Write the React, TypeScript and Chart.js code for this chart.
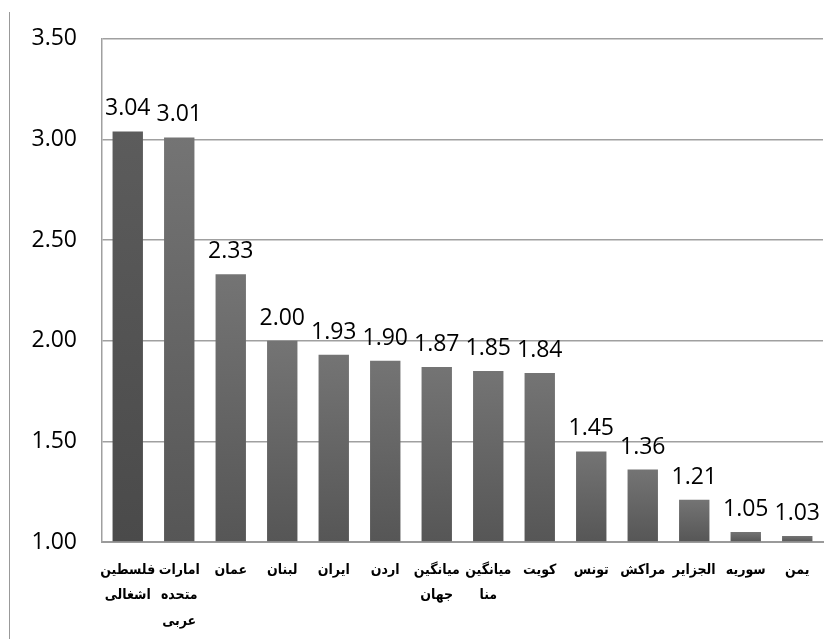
import React, { useEffect, useRef } from "react";
import { Chart, registerables } from "chart.js";

Chart.register(...registerables);

const categories: (string | string[])[] = [
  ["فلسطین", "اشغالی"],
  ["امارات", "متحده", "عربی"],
  "عمان",
  "لبنان",
  "ایران",
  "اردن",
  ["میانگین", "جهان"],
  ["میانگین", "منا"],
  "کویت",
  "تونس",
  "مراکش",
  "الجزایر",
  "سوریه",
  "یمن",
];

const values = [3.04, 3.01, 2.33, 2.0, 1.93, 1.9, 1.87, 1.85, 1.84, 1.45, 1.36, 1.21, 1.05, 1.03];

const yMin = 1.0;
const yMax = 3.5;
const yStep = 0.5;

const valueLabelPlugin = {
  id: "valueLabels",
  afterDatasetsDraw(chart: any) {
    const ctx = chart.ctx;
    const meta = chart.getDatasetMeta(0);
    ctx.save();
    ctx.font = "23px 'Open Sans', sans-serif";
    ctx.fillStyle = "#000";
    ctx.textAlign = "center";
    ctx.textBaseline = "alphabetic";
    meta.data.forEach((bar: any, i: number) => {
      ctx.fillText(values[i].toFixed(2), bar.x, bar.y - 16);
    });
    ctx.restore();
  },
};

export default function App() {
  const canvasRef = useRef<HTMLCanvasElement | null>(null);

  useEffect(() => {
    if (!canvasRef.current) return;
    const chart = new Chart(canvasRef.current, {
      type: "bar",
      data: {
        labels: categories,
        datasets: [
          {
            data: values,
            base: yMin,
            backgroundColor: (c: any) => {
              const ch = c.chart;
              const area = ch.chartArea;
              const i = c.dataIndex;
              if (!area || i === undefined) return "#666";
              const y = ch.scales.y;
              const top = y.getPixelForValue(values[i]);
              const bottom = y.getPixelForValue(yMin);
              const g = ch.ctx.createLinearGradient(0, top, 0, bottom);
              if (i === 0) {
                g.addColorStop(0, "#5c5c5c");
                g.addColorStop(1, "#4a4a4a");
              } else {
                g.addColorStop(0, "#747474");
                g.addColorStop(1, "#565656");
              }
              return g;
            },
            borderWidth: 0,
            barPercentage: 0.59,
            categoryPercentage: 1.0,
          },
        ],
      },
      options: {
        responsive: false,
        animation: false,
        layout: { padding: { top: 36, right: 16, left: 0, bottom: 0 } },
        plugins: {
          legend: { display: false },
          tooltip: { enabled: false },
        },
        scales: {
          x: {
            grid: { display: false, drawTicks: false },
            border: { display: true, color: "#9a9a9a", width: 2 },
            ticks: {
              autoSkip: false,
              maxRotation: 0,
              minRotation: 0,
              padding: 16,
              color: "#000",
              font: { family: "'DejaVu Sans Condensed', 'DejaVu Sans', sans-serif", size: 14, weight: "bold", lineHeight: 1.8 },
            },
            afterFit: (s: any) => {
              s.height = 97;
            },
          },
          y: {
            min: yMin,
            max: yMax,
            ticks: {
              stepSize: yStep,
              padding: 25,
              color: "#000",
              font: { family: "'Open Sans', sans-serif", size: 23 },
              callback: (v: any) => Number(v).toFixed(2),
            },
            grid: { color: "#a0a0a0", lineWidth: 1.5, drawTicks: false },
            border: { display: true, color: "#a0a0a0", width: 1.5 },
            afterFit: (s: any) => {
              s.width = 102;
            },
          },
        },
      },
      plugins: [valueLabelPlugin],
    });
    return () => chart.destroy();
  }, []);

  return (
    <div style={{ position: "fixed", left: 0, top: 0, width: 839, height: 639, background: "#fff" }}>
      <div style={{ position: "absolute", left: 9, top: 12, width: 1, height: 627, background: "#999" }} />
      <canvas ref={canvasRef} width={839} height={639} style={{ position: "absolute", left: 0, top: 0 }} />
    </div>
  );
}
